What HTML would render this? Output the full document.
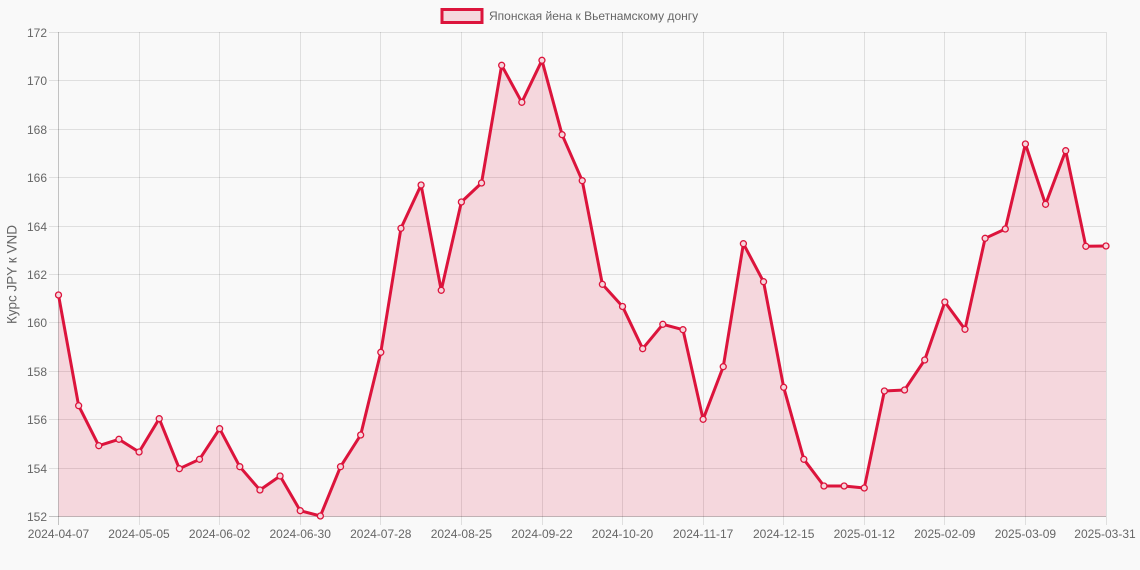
<!DOCTYPE html>
<html><head><meta charset="utf-8"><style>
html,body{margin:0;padding:0;background:#f9f9f9;}
svg{display:block;}
text{font-family:"Liberation Sans",Arial,sans-serif;fill:#666;}
</style></head><body>
<svg width="1140" height="570" viewBox="0 0 1140 570" xmlns="http://www.w3.org/2000/svg">
<rect width="1140" height="570" fill="#f9f9f9"/>
<!-- legend -->
<rect x="442" y="9.5" width="40" height="13" fill="#f5d7dd" stroke="#dc143c" stroke-width="3"/>
<text x="489" y="20" font-size="12">Японская йена к Вьетнамскому донгу</text>
<!-- horizontal grid -->
<g stroke="rgba(0,0,0,0.1)" stroke-width="1">
<line x1="49" x2="1106" y1="468.5" y2="468.5"/>
<line x1="49" x2="1106" y1="419.5" y2="419.5"/>
<line x1="49" x2="1106" y1="371.5" y2="371.5"/>
<line x1="49" x2="1106" y1="322.5" y2="322.5"/>
<line x1="49" x2="1106" y1="274.5" y2="274.5"/>
<line x1="49" x2="1106" y1="226.5" y2="226.5"/>
<line x1="49" x2="1106" y1="177.5" y2="177.5"/>
<line x1="49" x2="1106" y1="129.5" y2="129.5"/>
<line x1="49" x2="1106" y1="80.5" y2="80.5"/>
<line x1="49" x2="1106" y1="32.5" y2="32.5"/>
<!-- vertical grid -->
<line y1="32" y2="525" x1="139.5" x2="139.5"/>
<line y1="32" y2="525" x1="219.5" x2="219.5"/>
<line y1="32" y2="525" x1="300.5" x2="300.5"/>
<line y1="32" y2="525" x1="380.5" x2="380.5"/>
<line y1="32" y2="525" x1="461.5" x2="461.5"/>
<line y1="32" y2="525" x1="542.5" x2="542.5"/>
<line y1="32" y2="525" x1="622.5" x2="622.5"/>
<line y1="32" y2="525" x1="703.5" x2="703.5"/>
<line y1="32" y2="525" x1="783.5" x2="783.5"/>
<line y1="32" y2="525" x1="864.5" x2="864.5"/>
<line y1="32" y2="525" x1="944.5" x2="944.5"/>
<line y1="32" y2="525" x1="1025.5" x2="1025.5"/>
<line y1="32" y2="525" x1="1106.5" x2="1106.5"/>
</g>
<!-- area -->
<polygon fill="rgba(220,20,60,0.15)" points="58.5,516.6 58.5,295 78.64,405.7 98.79,445.7 118.93,439.3 139.08,452 159.22,418.7 179.36,468.7 199.51,459.3 219.65,428.7 239.8,466.7 259.94,490 280.08,476 300.23,510.7 320.37,516 340.52,466.7 360.66,435 380.8,352.3 400.95,228.3 421.09,185 441.24,290.3 461.38,202 481.52,183 501.67,65.3 521.81,102.3 541.96,60.3 562.1,134.7 582.24,180.7 602.39,284.3 622.53,306.5 642.68,348.7 662.82,324.3 682.96,329.7 703.11,419.3 723.25,366.7 743.4,243.7 763.54,281.7 783.68,387.3 803.83,459.3 823.97,486 844.12,486 864.26,488 884.4,391 904.55,390 924.69,360 944.84,302 964.98,329.3 985.12,238.3 1005.27,229 1025.41,144 1045.56,204.3 1065.7,150.7 1085.84,246.3 1105.99,246 1105.99,516.6"/>
<!-- axes -->
<g stroke="rgba(0,0,0,0.22)" stroke-width="1">
<line x1="58.5" x2="58.5" y1="32" y2="525"/>
<line x1="49" x2="1106" y1="516.5" y2="516.5"/>
</g>
<!-- line -->
<polyline fill="none" stroke="#dc143c" stroke-width="3" stroke-linejoin="round" points="58.5,295 78.64,405.7 98.79,445.7 118.93,439.3 139.08,452 159.22,418.7 179.36,468.7 199.51,459.3 219.65,428.7 239.8,466.7 259.94,490 280.08,476 300.23,510.7 320.37,516 340.52,466.7 360.66,435 380.8,352.3 400.95,228.3 421.09,185 441.24,290.3 461.38,202 481.52,183 501.67,65.3 521.81,102.3 541.96,60.3 562.1,134.7 582.24,180.7 602.39,284.3 622.53,306.5 642.68,348.7 662.82,324.3 682.96,329.7 703.11,419.3 723.25,366.7 743.4,243.7 763.54,281.7 783.68,387.3 803.83,459.3 823.97,486 844.12,486 864.26,488 884.4,391 904.55,390 924.69,360 944.84,302 964.98,329.3 985.12,238.3 1005.27,229 1025.41,144 1045.56,204.3 1065.7,150.7 1085.84,246.3 1105.99,246"/>
<!-- points -->
<g fill="#f5d7dd" stroke="#dc143c" stroke-width="1.3">
<circle cx="58.5" cy="295" r="3"/><circle cx="78.64" cy="405.7" r="3"/><circle cx="98.79" cy="445.7" r="3"/><circle cx="118.93" cy="439.3" r="3"/><circle cx="139.08" cy="452" r="3"/><circle cx="159.22" cy="418.7" r="3"/><circle cx="179.36" cy="468.7" r="3"/><circle cx="199.51" cy="459.3" r="3"/><circle cx="219.65" cy="428.7" r="3"/><circle cx="239.8" cy="466.7" r="3"/><circle cx="259.94" cy="490" r="3"/><circle cx="280.08" cy="476" r="3"/><circle cx="300.23" cy="510.7" r="3"/><circle cx="320.37" cy="516" r="3"/><circle cx="340.52" cy="466.7" r="3"/><circle cx="360.66" cy="435" r="3"/><circle cx="380.8" cy="352.3" r="3"/><circle cx="400.95" cy="228.3" r="3"/><circle cx="421.09" cy="185" r="3"/><circle cx="441.24" cy="290.3" r="3"/><circle cx="461.38" cy="202" r="3"/><circle cx="481.52" cy="183" r="3"/><circle cx="501.67" cy="65.3" r="3"/><circle cx="521.81" cy="102.3" r="3"/><circle cx="541.96" cy="60.3" r="3"/><circle cx="562.1" cy="134.7" r="3"/><circle cx="582.24" cy="180.7" r="3"/><circle cx="602.39" cy="284.3" r="3"/><circle cx="622.53" cy="306.5" r="3"/><circle cx="642.68" cy="348.7" r="3"/><circle cx="662.82" cy="324.3" r="3"/><circle cx="682.96" cy="329.7" r="3"/><circle cx="703.11" cy="419.3" r="3"/><circle cx="723.25" cy="366.7" r="3"/><circle cx="743.4" cy="243.7" r="3"/><circle cx="763.54" cy="281.7" r="3"/><circle cx="783.68" cy="387.3" r="3"/><circle cx="803.83" cy="459.3" r="3"/><circle cx="823.97" cy="486" r="3"/><circle cx="844.12" cy="486" r="3"/><circle cx="864.26" cy="488" r="3"/><circle cx="884.4" cy="391" r="3"/><circle cx="904.55" cy="390" r="3"/><circle cx="924.69" cy="360" r="3"/><circle cx="944.84" cy="302" r="3"/><circle cx="964.98" cy="329.3" r="3"/><circle cx="985.12" cy="238.3" r="3"/><circle cx="1005.27" cy="229" r="3"/><circle cx="1025.41" cy="144" r="3"/><circle cx="1045.56" cy="204.3" r="3"/><circle cx="1065.7" cy="150.7" r="3"/><circle cx="1085.84" cy="246.3" r="3"/><circle cx="1105.99" cy="246" r="3"/>
</g>
<!-- y tick labels -->
<g font-size="12" text-anchor="end">
<text x="47" y="521">152</text>
<text x="47" y="473">154</text>
<text x="47" y="424">156</text>
<text x="47" y="376">158</text>
<text x="47" y="327">160</text>
<text x="47" y="279">162</text>
<text x="47" y="231">164</text>
<text x="47" y="182">166</text>
<text x="47" y="134">168</text>
<text x="47" y="85">170</text>
<text x="47" y="37">172</text>
</g>
<!-- x tick labels -->
<g font-size="12" text-anchor="middle">
<text x="58.5" y="538">2024-04-07</text>
<text x="139" y="538">2024-05-05</text>
<text x="219.6" y="538">2024-06-02</text>
<text x="300.2" y="538">2024-06-30</text>
<text x="380.8" y="538">2024-07-28</text>
<text x="461.4" y="538">2024-08-25</text>
<text x="542" y="538">2024-09-22</text>
<text x="622.5" y="538">2024-10-20</text>
<text x="703.1" y="538">2024-11-17</text>
<text x="783.7" y="538">2024-12-15</text>
<text x="864.3" y="538">2025-01-12</text>
<text x="944.8" y="538">2025-02-09</text>
<text x="1025.4" y="538">2025-03-09</text>
<text x="1105" y="538">2025-03-31</text>
</g>
<!-- y axis title -->
<text transform="translate(16.5,274.5) rotate(-90)" font-size="13.5" text-anchor="middle">Курс JPY к VND</text>
</svg>
</body></html>
